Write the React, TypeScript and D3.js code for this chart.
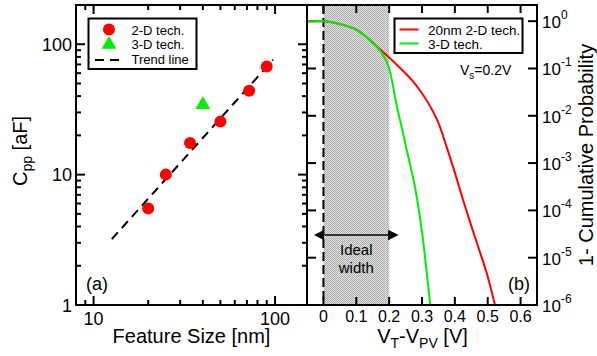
import React from 'react';
import * as d3 from 'd3';

// ---- Panel (a) data ----
const featureSize2D = [20, 25, 34, 50, 72, 90];
const cpp2D = [5.5, 10, 17.5, 25.5, 44, 67.5];
const featureSize3D = [40];
const cpp3D = [35];
const trendX = [12.6, 97.5];
const trendY = [3.2, 76];
const leftXTicks = [10, 100];
const leftXMinor = [9, 20, 30, 40, 50, 60, 70, 80, 90];
const leftYTicks = [1, 10, 100];
const leftYMinor = [2, 3, 4, 5, 6, 7, 8, 9, 20, 30, 40, 50, 60, 70, 80, 90];

// ---- Panel (b) data ----
const vRed = [-0.05, 0, 0.05, 0.1, 0.125, 0.15, 0.175, 0.2, 0.225, 0.25, 0.275, 0.3, 0.325, 0.35, 0.375, 0.4, 0.425, 0.45, 0.475, 0.5, 0.522];
const pRed = [1, 1, 0.87, 0.66, 0.5, 0.355, 0.245, 0.17, 0.117, 0.079, 0.051, 0.03, 0.0158, 0.0071, 0.0022, 6.3e-4, 1.66e-4, 4.7e-5, 1.4e-5, 4e-6, 1e-6];
const vGreen = [-0.05, 0, 0.05, 0.1, 0.125, 0.15, 0.175, 0.19, 0.2, 0.21, 0.22, 0.24, 0.26, 0.28, 0.3, 0.325];
const pGreen = [1, 1, 0.87, 0.66, 0.5, 0.35, 0.225, 0.15, 0.1, 0.05, 0.021, 0.005, 0.0012, 2.8e-4, 3.5e-5, 1e-6];
const rightXTicks = [0, 0.1, 0.2, 0.3, 0.4, 0.5, 0.6];
const rightXLabels = ['0', '0.1', '0.2', '0.3', '0.4', '0.5', '0.6'];
const rightYExps = [0, -1, -2, -3, -4, -5, -6];
const idealWidth = [0, 0.2];

const FONT = '"Liberation Sans", Arial, Helvetica, sans-serif';

export default function App() {
  const top = 5, bottom = 305;
  const lx0 = 76, lx1 = 307, rx0 = 307, rx1 = 537;

  const xL = d3.scaleLog().domain([8, 150]).range([lx0, lx1]);
  const yL = d3.scaleLog().domain([1, 200]).range([bottom, top]);
  const xR = d3.scaleLinear().domain([-0.05, 0.65]).range([rx0, rx1]);
  const yR = d3.scaleLog().domain([1e-6, Math.pow(10, 0.342)]).range([bottom, top]);

  const lineR = d3.line<number>()
    .x((d, i) => xR(vRed[i]))
    .y((d) => yR(d))
    .curve(d3.curveMonotoneX);
  const lineG = d3.line<number>()
    .x((d, i) => xR(vGreen[i]))
    .y((d) => yR(d))
    .curve(d3.curveMonotoneX);

  const trend = d3.line<number>()
    .x((d) => xL(d))
    .y((d, i) => yL(trendY[i]));

  const tri = d3.symbol().type(d3.symbolTriangle).size(95)();

  const sw = 2;

  return (
    <svg width={597} height={356} style={{ position: 'absolute', left: 0, top: 0, background: '#fff' }}
      fontFamily={FONT}>
      <defs>
        <pattern id="dots" width={2} height={2} patternUnits="userSpaceOnUse">
          <rect x={0} y={0} width={2} height={2} fill="#e6e6e6" />
          <rect x={0} y={0} width={1} height={1} fill="#a8a8a8" />
          <rect x={1} y={1} width={1} height={1} fill="#a8a8a8" />
        </pattern>
        <clipPath id="clipR">
          <rect x={rx0} y={top} width={rx1 - rx0} height={bottom - top} />
        </clipPath>
        <marker id="arrowS" viewBox="0 0 10 10" refX={0} refY={5} markerWidth={7} markerHeight={7} orient="auto-start-reverse">
          <path d="M0,0 L10,5 L0,10 z" fill="#000" />
        </marker>
      </defs>
      <rect x={0} y={0} width={597} height={356} fill="#fff" />

      {/* ===== Panel (a) ===== */}
      {leftXTicks.map((t) => (
        <g key={'lxt' + t}>
          <line x1={xL(t)} x2={xL(t)} y1={bottom} y2={bottom - 9} stroke="#000" strokeWidth={sw} />
          <line x1={xL(t)} x2={xL(t)} y1={top} y2={top + 9} stroke="#000" strokeWidth={sw} />
          <text x={xL(t)} y={325} fontSize={18} textAnchor="middle">{t}</text>
        </g>
      ))}
      {leftXMinor.map((t) => (
        <g key={'lxm' + t}>
          <line x1={xL(t)} x2={xL(t)} y1={bottom} y2={bottom - 5} stroke="#000" strokeWidth={sw} />
          <line x1={xL(t)} x2={xL(t)} y1={top} y2={top + 5} stroke="#000" strokeWidth={sw} />
        </g>
      ))}
      {leftYTicks.map((t) => (
        <g key={'lyt' + t}>
          <line x1={lx0} x2={lx0 + 9} y1={yL(t)} y2={yL(t)} stroke="#000" strokeWidth={sw} />
          <line x1={lx1} x2={lx1 - 9} y1={yL(t)} y2={yL(t)} stroke="#000" strokeWidth={sw} />
          <text x={72} y={yL(t) + 6.5} fontSize={18} textAnchor="end">{t}</text>
        </g>
      ))}
      {leftYMinor.map((t) => (
        <g key={'lym' + t}>
          <line x1={lx0} x2={lx0 + 5} y1={yL(t)} y2={yL(t)} stroke="#000" strokeWidth={sw} />
          <line x1={lx1} x2={lx1 - 5} y1={yL(t)} y2={yL(t)} stroke="#000" strokeWidth={sw} />
        </g>
      ))}

      <path d={trend(trendX) || ''} fill="none" stroke="#000" strokeWidth={2} strokeDasharray="9,6" />
      {featureSize2D.map((f, i) => (
        <circle key={'c' + i} cx={xL(f)} cy={yL(cpp2D[i])} r={6} fill="#ff0000" />
      ))}
      {featureSize3D.map((f, i) => (
        <path key={'t' + i} d={tri || ''} transform={`translate(${xL(f)},${yL(cpp3D[i]) + 1})`} fill="#00ee00" />
      ))}

      {/* legend (a) */}
      <rect x={88.5} y={18.5} width={108} height={50.5} fill="#fff" stroke="#000" strokeWidth={2} />
      <circle cx={109} cy={29.5} r={6} fill="#ff0000" />
      <path d={tri || ''} transform="translate(109,44.5)" fill="#00ee00" />
      <line x1={95} x2={123} y1={60} y2={60} stroke="#000" strokeWidth={2} strokeDasharray="9,6" />
      <text x={131.5} y={34.5} fontSize={13}>2-D tech.</text>
      <text x={131.5} y={49} fontSize={13}>3-D tech.</text>
      <text x={131.5} y={63.5} fontSize={13}>Trend line</text>

      <text x={86} y={290} fontSize={18}>(a)</text>

      <text x={(lx0 + lx1) / 2} y={342.5} fontSize={20} textAnchor="middle">Feature Size [nm]</text>
      <text transform="translate(26.5,151) rotate(-90)" fontSize={20} textAnchor="middle">
        C<tspan fontSize={14} dy={5}>pp</tspan><tspan dy={-5}> [aF]</tspan>
      </text>

      {/* ===== Panel (b) ===== */}
      <rect x={xR(idealWidth[0])} y={top} width={xR(idealWidth[1]) - xR(idealWidth[0])} height={bottom - top} fill="url(#dots)" />
      <line x1={xR(0)} x2={xR(0)} y1={top} y2={bottom} stroke="#000" strokeWidth={2} strokeDasharray="9,4" />

      {rightXTicks.map((t, i) => (
        <g key={'rxt' + t}>
          <line x1={xR(t)} x2={xR(t)} y1={bottom} y2={bottom - 8} stroke="#000" strokeWidth={sw} />
          <line x1={xR(t)} x2={xR(t)} y1={top} y2={top + 8} stroke="#000" strokeWidth={sw} />
          <text x={xR(t)} y={322} fontSize={16} textAnchor="middle">{rightXLabels[i]}</text>
        </g>
      ))}
      {rightYExps.map((e) => (
        <g key={'ryt' + e}>
          <line x1={rx0} x2={rx0 + 9} y1={yR(Math.pow(10, e))} y2={yR(Math.pow(10, e))} stroke="#000" strokeWidth={sw} />
          <line x1={rx1} x2={rx1 - 9} y1={yR(Math.pow(10, e))} y2={yR(Math.pow(10, e))} stroke="#000" strokeWidth={sw} />
          <text x={542} y={yR(Math.pow(10, e)) + 7} fontSize={17}>
            10<tspan fontSize={12} dy={-9}>{e === 0 ? '0' : '-' + Math.abs(e)}</tspan>
          </text>
        </g>
      ))}

      <g clipPath="url(#clipR)">
        <path d={lineR(pRed) || ''} fill="none" stroke="#ff0000" strokeWidth={2} />
        <path d={lineG(pGreen) || ''} fill="none" stroke="#00ee00" strokeWidth={2} />
      </g>

      <line x1={xR(idealWidth[0]) + 1} x2={xR(idealWidth[1]) - 1} y1={235} y2={235} stroke="#000" strokeWidth={1.5}
        markerStart="url(#arrowS)" markerEnd="url(#arrowS)" />
      <text x={(xR(idealWidth[0]) + xR(idealWidth[1])) / 2} y={255} fontSize={15} textAnchor="middle">Ideal</text>
      <text x={(xR(idealWidth[0]) + xR(idealWidth[1])) / 2} y={273} fontSize={15} textAnchor="middle">width</text>

      {/* legend (b) */}
      <rect x={394.5} y={18.5} width={128} height={34.5} fill="#fff" stroke="#000" strokeWidth={2} />
      <line x1={399.5} x2={418.5} y1={29.5} y2={29.5} stroke="#ff0000" strokeWidth={2} />
      <line x1={399.5} x2={418.5} y1={43.5} y2={43.5} stroke="#00ee00" strokeWidth={2} />
      <text x={428} y={34.5} fontSize={13.5}>20nm 2-D tech.</text>
      <text x={428} y={49} fontSize={13.5}>3-D tech.</text>

      <text x={460} y={75} fontSize={14}>V<tspan fontSize={10} dy={4}>s</tspan><tspan dy={-4}>=0.2V</tspan></text>
      <text x={508} y={290} fontSize={18}>(b)</text>

      <text x={422.5} y={342.5} fontSize={20} textAnchor="middle">
        V<tspan fontSize={14} dy={5}>T</tspan><tspan dy={-5}>-V</tspan><tspan fontSize={14} dy={5}>PV</tspan><tspan dy={-5}> [V]</tspan>
      </text>
      <text transform="translate(593,155) rotate(-90)" fontSize={20} textAnchor="middle">1- Cumulative Probability</text>

      <rect x={lx0} y={top} width={lx1 - lx0} height={bottom - top} fill="none" stroke="#000" strokeWidth={2} />
      <rect x={rx0} y={top} width={rx1 - rx0} height={bottom - top} fill="none" stroke="#000" strokeWidth={2} />
    </svg>
  );
}
